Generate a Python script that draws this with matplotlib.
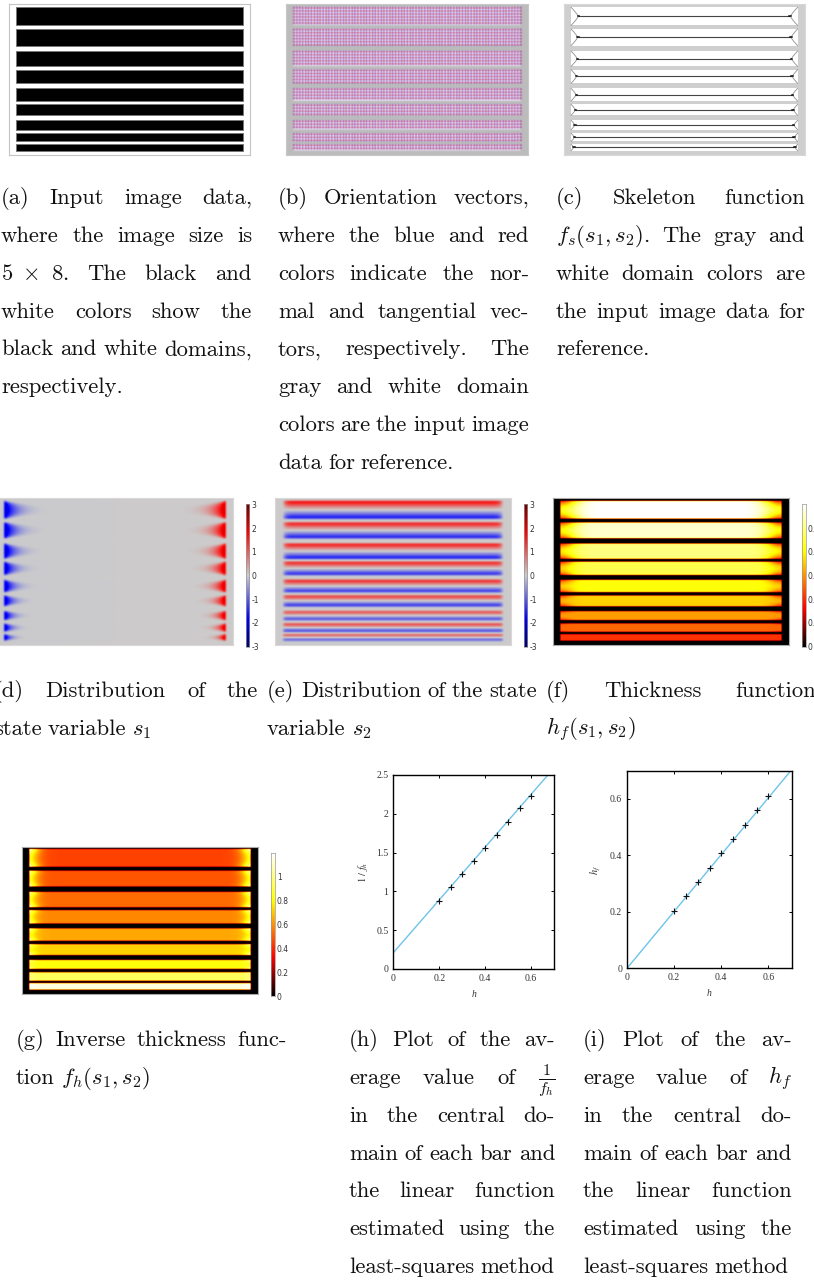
import numpy as np
import matplotlib
matplotlib.use("Agg")
import matplotlib.pyplot as plt
from matplotlib.colors import LinearSegmentedColormap
from matplotlib.collections import LineCollection
from matplotlib.patches import Rectangle
from matplotlib.figure import Figure
from matplotlib.backends.backend_agg import FigureCanvasAgg

plt.rcParams['font.family'] = ['cmr10', 'DejaVu Sans']
plt.rcParams['mathtext.fontset'] = 'cm'
plt.rcParams['axes.formatter.use_mathtext'] = True

W, H = 814, 1280
fig = plt.figure(figsize=(W / 100, H / 100), dpi=100, facecolor='white')

# ---------- data ----------
bar_top = [.10, .82, 1.55, 2.17, 2.79, 3.32, 3.85, 4.28, 4.645]
bar_bottom = [.70, 1.37, 2.06, 2.62, 3.21, 3.68, 4.16, 4.55, 4.855]
bar_hf = [.60, .56, .50, .46, .41, .36, .31, .26, .21]
bar_fh = [.448, .483, .526, .578, .641, .72, .82, .943, 1.15]

h_values = [.2, .25, .3, .35, .4, .45, .5, .55, .6]
inv_fh_values = [.87, 1.06, 1.22, 1.39, 1.56, 1.73, 1.90, 2.07, 2.23]
hf_values = [.203, .257, .305, .356, .407, .458, .508, .56, .61]
fit_x = [0, .7]
fit_inv_fh = [.21, 2.59]
fit_hf = [0, .705]

s_ticks = [-3, -2, -1, 0, 1, 2, 3]
hf_ticks = [0, .1, .2, .3, .4, .5]
fh_ticks = [0, .2, .4, .6, .8, 1]

DOM_W, DOM_H = 8.0, 5.0
X0, X1 = .245, 7.755

diverge = LinearSegmentedColormap.from_list('div', [
    (0, (0, 0, .42)), (.2, (0, 0, 1)), (.5, (.8, .8, .8)), (.8, (1, 0, 0)), (1, (.42, 0, 0))])
heat = LinearSegmentedColormap.from_list('heat', [
    (0, (0, 0, 0)), (.27, (1, 0, 0)), (.67, (1, 1, 0)), (1, (1, 1, 1))])


def ax_px(x0, y0, x1, y1):
    return fig.add_axes([x0 / W, 1 - y1 / H, (x1 - x0) / W, (y1 - y0) / H])


def panel(x0, y0, x1, y1, edge='#bdbdbd'):
    a = ax_px(x0, y0, x1, y1)
    a.set_xlim(0, DOM_W)
    a.set_ylim(DOM_H, 0)
    a.set_xticks([])
    a.set_yticks([])
    for s in a.spines.values():
        s.set_color(edge)
        s.set_linewidth(.8)
    return a


def grid():
    x = np.linspace(0, DOM_W, 480)
    y = np.linspace(0, DOM_H, 300)
    return np.meshgrid(x, y)


def blur(F, sigma):
    r = int(3 * sigma) + 1
    k = np.exp(-.5 * (np.arange(-r, r + 1) / sigma) ** 2)
    k /= k.sum()
    F = np.apply_along_axis(lambda m: np.convolve(np.pad(m, r, mode='edge'), k, mode='valid'), 0, F)
    F = np.apply_along_axis(lambda m: np.convolve(np.pad(m, r, mode='edge'), k, mode='valid'), 1, F)
    return F


def bar_fields(XX, YY):
    for i, (t, b) in enumerate(zip(bar_top, bar_bottom)):
        a = (b - t) / 2
        c = (b + t) / 2
        inside = (YY >= t) & (YY <= b) & (XX >= X0) & (XX <= X1)
        yield i, a, inside, (YY - c) / a, XX - X0, X1 - XX


# (a) input image
ax = panel(9, 4.3, 250, 155, '#c4c4c4')
for t, b in zip(bar_top, bar_bottom):
    ax.add_patch(Rectangle((X0, t), X1 - X0, b - t, fc='black', ec='#777777', lw=.7))

# (b) orientation vectors, drawn off screen at 3x and softened
off = Figure(figsize=(7.242, 4.521), dpi=100)
off_canvas = FigureCanvasAgg(off)
oa = off.add_axes([0, 0, 1, 1])
oa.set_xlim(0, DOM_W)
oa.set_ylim(DOM_H, 0)
oa.set_axis_off()
off.patch.set_facecolor('#bcbcbc')
red_segs, blue_segs = [], []
for t, b in zip(bar_top, bar_bottom):
    oa.add_patch(Rectangle((X0, t), X1 - X0, b - t, fc='#e6dcec', ec='none'))
    a = (b - t) / 2
    c = (b + t) / 2
    for gy in np.arange(t + .03, b - .01, .1):
        for gx in np.arange(X0 + .02, X1 + .02, .096):
            d = min(gx - X0, X1 - gx)
            v = (gy - c) / a
            rot = 0.0
            reach = 2.0 * a * (1 - .6 * abs(v))
            if d < reach:
                side = 1 if gx < 4 else -1
                rot = side * np.sign(v) * (1 - d / reach) * np.pi / 2.5 * (1 + .5 * np.sin(gx * 23 + gy * 17))
            ca, sa = np.cos(rot) * .045, np.sin(rot) * .045
            red_segs.append([(gx - ca, gy - sa), (gx + ca, gy + sa)])
            blue_segs.append([(gx + sa, gy - ca), (gx - sa, gy + ca)])
oa.add_collection(LineCollection(blue_segs, colors='#2a2aee', linewidths=1.6, alpha=.8))
oa.add_collection(LineCollection(red_segs, colors='#ee2a3a', linewidths=1.6, alpha=.8))
off_canvas.draw()
rgb = np.asarray(off_canvas.buffer_rgba())[:, :, :3] / 255.0
rgb = np.dstack([blur(rgb[:, :, j], 1.6) for j in range(3)])
ax = panel(286.3, 4.3, 527.7, 155, '#c8c8c8')
ax.imshow(rgb, extent=(0, DOM_W, DOM_H, 0), aspect='auto')

# (c) skeleton function
ax = panel(563.7, 4.3, 805, 155, '#d8d8d8')
ax.set_facecolor('#cfcfcf')
for t, b in zip(bar_top, bar_bottom):
    ax.add_patch(Rectangle((X0, t), X1 - X0, b - t, fc='white', ec='none'))
    a = (b - t) / 2
    c = (b + t) / 2
    apex = .8 * a
    ax.plot([X0 + apex, X1 - apex], [c, c], color='#444444', lw=.8, solid_capstyle='butt')
    u = np.linspace(0, 1, 20)
    for sy in (-1, 1):
        px = 2 * u * (1 - u) * (.62 * a) + u ** 2 * apex
        py = (1 - u) ** 2 * (c + sy * a) + 2 * u * (1 - u) * (c + sy * .35 * a) + u ** 2 * c
        ax.plot(X0 + px, py, color='#909090', lw=.6)
        ax.plot(X1 - px, py, color='#909090', lw=.6)
    for sx, x_e in ((1, X0 + apex), (-1, X1 - apex)):
        ax.plot([x_e - sx * .02, x_e + sx * .03], [c, c], color='#111111', lw=1.1)

# (d) s1
XX, YY = grid()
F = np.zeros_like(XX)
for i, a, inside, v, dl, dr in bar_fields(XX, YY):
    width = (.95 * a + .1) * (1 - np.abs(v) ** 2.2).clip(0) + .02
    F[inside] = (2.4 * (np.exp(-(dr / width) ** 1.2) - np.exp(-(dl / width) ** 1.2)))[inside]
ax = panel(-3, 498.3, 233, 645, '#d8d8d8')
ax.imshow(blur(F, 2.0), cmap=diverge, vmin=-3, vmax=3, extent=(0, DOM_W, DOM_H, 0), aspect='auto')

# (e) s2
F = np.zeros_like(XX)
for i, a, inside, v, dl, dr in bar_fields(XX, YY):
    amp = 1.3 + 2.4 * a
    prof = -np.sign(v) * np.abs(v) ** 1.15
    ends = 1 - np.exp(-(np.minimum(dl, dr) / (.35 * a)) ** 1.3)
    F[inside] = (amp * prof * ends)[inside]
ax = panel(275, 498.3, 511, 645, '#d8d8d8')
ax.imshow(blur(F, 2.0), cmap=diverge, vmin=-3, vmax=3, extent=(0, DOM_W, DOM_H, 0), aspect='auto')

# (f) thickness
F = np.zeros_like(XX)
for i, a, inside, v, dl, dr in bar_fields(XX, YY):
    base = bar_hf[i]
    d = np.minimum(dl, dr)
    floor = .2 + .22 * (1 - np.abs(v) ** 2) * a / .3
    floor = np.minimum(floor, base)
    F[inside] = (floor + (base - floor) * (1 - np.exp(-(d / (2.0 * a)) ** 2)))[inside]
ax = panel(553, 498.3, 789, 645, '#aaaaaa')
ax.imshow(blur(F, .8), cmap=heat, vmin=0, vmax=.6, extent=(0, DOM_W, DOM_H, 0), aspect='auto')

# (g) inverse thickness
F = np.zeros_like(XX)
for i, a, inside, v, dl, dr in bar_fields(XX, YY):
    base = bar_fh[i]
    d = np.minimum(dl, dr)
    peak = .85 + .3 * np.abs(v) ** 2
    F[inside] = (base + np.maximum(peak - base, .06) * np.exp(-(d / (.9 * a + .03)) ** 1.5))[inside]
ax = panel(22, 846.7, 257.7, 994.3, '#aaaaaa')
ax.imshow(blur(F, .8), cmap=heat, vmin=0, vmax=1.2, extent=(0, DOM_W, DOM_H, 0), aspect='auto')


# ---------- colorbars ----------
def colorbar(x0, y0, x1, y1, cmap, vmin, vmax, ticks, labels):
    a = ax_px(x0, y0, x1, y1)
    gradient = np.linspace(vmax, vmin, 256)[:, None]
    a.imshow(gradient, cmap=cmap, vmin=vmin, vmax=vmax, aspect='auto',
             extent=(0, 1, vmin, vmax))
    a.set_xticks([])
    a.yaxis.tick_right()
    a.set_yticks(ticks)
    a.set_yticklabels(labels, fontsize=5.5, family='DejaVu Sans', color='#333333')
    a.tick_params(axis='y', length=0, pad=1.5)
    for s in a.spines.values():
        s.set_color('#999999')
        s.set_linewidth(.5)


s_labels = [str(t) for t in s_ticks]
colorbar(246, 504.3, 249.3, 646.7, diverge, -3, 3, s_ticks, s_labels)
colorbar(524, 504.3, 527.3, 646.7, diverge, -3, 3, s_ticks, s_labels)
colorbar(802.3, 504.3, 805.7, 646.7, heat, 0, .6, hf_ticks, ['0', '0.1', '0.2', '0.3', '0.4', '0.5'])
colorbar(270.7, 853, 274.7, 996, heat, 0, 1.2, fh_ticks, ['0', '0.2', '0.4', '0.6', '0.8', '1'])

# ---------- line plots ----------
SERIF = 'Liberation Serif'


def line_plot(box, yvals, fit_y, ylim, yticks, ylabels, ylab, ylab_x):
    a = ax_px(*box)
    a.plot(fit_x, fit_y, color='#6ec3ea', lw=1.0, zorder=2)
    a.plot(h_values, yvals, ls='none', marker='+', ms=3.8, mew=.8, color='#111111', zorder=3)
    a.set_xlim(0, .7)
    a.set_ylim(*ylim)
    a.set_xticks([0, .2, .4, .6])
    a.set_xticklabels(['0', '0.2', '0.4', '0.6'], family=SERIF, fontsize=7, color='#333333')
    a.set_yticks(yticks)
    a.set_yticklabels(ylabels, family=SERIF, fontsize=7, color='#333333')
    a.tick_params(direction='in', top=True, right=True, length=2.5, width=.7, pad=3.5)
    for s in a.spines.values():
        s.set_linewidth(1.0)
    a.set_xlabel('h', family=SERIF, style='italic', fontsize=7, color='#333333', labelpad=5)
    fig.text(ylab_x / W, 1 - (box[1] + box[3]) / 2 / H, ylab, rotation=90, ha='center', va='center',
             family=SERIF, fontsize=7.5, color='#333333', math_fontfamily='stix')


line_plot((393.3, 775, 554, 969), inv_fh_values, fit_inv_fh, (0, 2.5),
          [0, .5, 1, 1.5, 2, 2.5], ['0', '0.5', '1', '1.5', '2', '2.5'], r'$1\ /\ f_h$', 363)
line_plot((627, 770.7, 792, 968.3), hf_values, fit_hf, (0, .7),
          [0, .2, .4, .6], ['0', '0.2', '0.4', '0.6'], r'$h_f$', 596)

# ---------- captions ----------
CAP_SIZE = 16.3
STEP = 37.85
captions = [
    (1, 252, 204, ["(a) Input image data,", "where the image size is", r"$5\ \times\ 8.$ The black and",
                   "white colors show the", "black and white domains,", "respectively."]),
    (278, 529, 204, ["(b) Orientation vectors,", "where the blue and red", "colors indicate the nor-",
                     "mal and tangential vec-", "tors, respectively. The", "gray and white domain",
                     "colors are the input image", "data for reference."]),
    (556, 805, 204, ["(c) Skeleton function", r"$f_s(s_1,s_2)$. The gray and", "white domain colors are",
                     "the input image data for", "reference."]),
    (-6, 258, 697, ["(d) Distribution of the", r"state variable $s_1$"]),
    (267, 537, 697, ["(e) Distribution of the state", r"variable $s_2$"]),
    (546, 816, 697, ["(f) Thickness function", r"$h_f(s_1,s_2)$"]),
    (16, 287, 1046, ["(g) Inverse thickness func-", r"tion $f_h(s_1,s_2)$"]),
    (349, 555, 1046, ["(h) Plot of the av-", r"erage value of $\frac{1}{f_h}$", "in the central do-",
                      "main of each bar and", "the linear function", "estimated using the",
                      "least-squares method"]),
    (583, 792, 1046, ["(i) Plot of the av-", r"erage value of $h_f$", "in the central do-",
                      "main of each bar and", "the linear function", "estimated using the",
                      "least-squares method"]),
]

renderer = fig.canvas.get_renderer()


def put_word(x, y, s):
    return fig.text(x / W, 1 - y / H, s, fontsize=CAP_SIZE, ha='left', va='baseline', color='#111111')


for x0, x1, y0, lines in captions:
    for k, line in enumerate(lines):
        y = y0 + k * STEP
        # keep a math span with inner spaces as one word
        words = [r"$5\ \times\ 8.$", "The", "black", "and"] if line.startswith("$5") else line.split(' ')
        last = k == len(lines) - 1
        objs = [put_word(0, y, w) for w in words]
        widths = [o.get_window_extent(renderer).width for o in objs]
        if last or len(words) == 1 or line.startswith(('tion ', 'state var', 'variable')):
            gap = 6.0
        else:
            gap = (x1 - x0 - sum(widths)) / (len(words) - 1)
        x = x0
        for o, wd in zip(objs, widths):
            o.set_x(x / W)
            x += wd + gap

fig.savefig('out.png', dpi=100)
